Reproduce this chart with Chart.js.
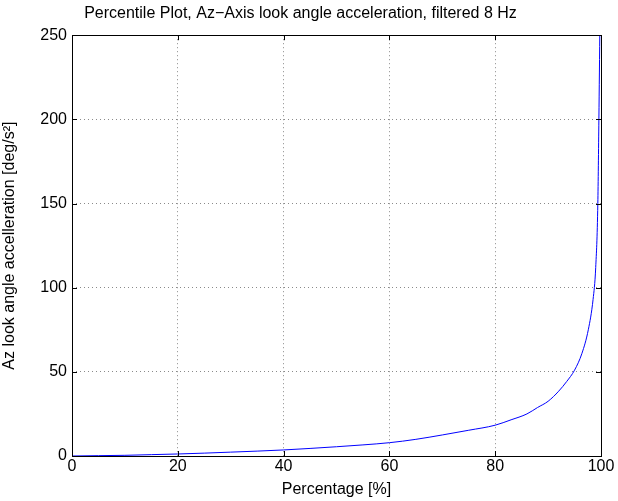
<!DOCTYPE html>
<html>
<head>
<meta charset="utf-8">
<script src="https://cdn.jsdelivr.net/npm/chart.js@4/dist/chart.umd.min.js"></script>
<style>
  html, body { margin: 0; padding: 0; background: #fff; }
  #wrap { width: 618px; height: 501px; }
</style>
</head>
<body>
<div id="wrap"><canvas id="grafico"></canvas></div>
<script>
// datos
const percentiles = [0, 5, 10, 15, 20, 25, 30, 35, 40, 45, 50, 55, 60, 65, 70, 75, 80,
    83, 86, 88, 90, 92, 93.5, 95, 96.4, 97.6, 98.5, 99, 99.4, 99.6, 99.8, 100];
const aceleracion = [0, 0.2, 0.4, 0.8, 1.2, 1.7, 2.3, 2.9, 3.6, 4.5, 5.5, 6.6, 7.9, 9.9, 12.5, 15.3, 18.3,
    21.5, 25, 28.8, 32.5, 38.5, 44.2, 51, 61, 75, 93, 112, 150, 200, 260, 340];
const ticksX = [0, 20, 40, 60, 80, 100];
const ticksY = [0, 50, 100, 150, 200, 250];

const FUENTE = 'Liberation Sans, Arial, Helvetica, sans-serif';
const COLORES = { LINEA: '#0000ff', GRID: '#8a8a8a', TEXTO: '#000' };

const puntos = percentiles.map((p, i) => ({ x: p, y: aceleracion[i] }));

// marco negro y marcas de tick hacia dentro (estilo MATLAB)
const marcoPlugin = {
    id: 'marco',
    afterDatasetsDraw(chart) {
        const { ctx, chartArea: a, scales: { x, y } } = chart;
        ctx.save();
        ctx.strokeStyle = '#000';
        ctx.lineWidth = 1;
        ctx.strokeRect(Math.round(a.left) + 0.5, Math.round(a.top) + 0.5,
            Math.round(a.right - a.left), Math.round(a.bottom - a.top));
        const largo = 5;
        ctx.beginPath();
        ticksX.forEach(v => {
            const px = Math.round(x.getPixelForValue(v)) + 0.5;
            ctx.moveTo(px, a.bottom); ctx.lineTo(px, a.bottom - largo);
            ctx.moveTo(px, a.top); ctx.lineTo(px, a.top + largo);
        });
        ticksY.forEach(v => {
            const py = Math.round(y.getPixelForValue(v)) + 0.5;
            ctx.moveTo(a.left, py); ctx.lineTo(a.left + largo, py);
            ctx.moveTo(a.right, py); ctx.lineTo(a.right - largo, py);
        });
        ctx.stroke();
        ctx.restore();
    }
};

new Chart(document.getElementById('grafico').getContext('2d'), {
    type: 'line',
    data: {
        datasets: [{
            data: puntos,
            borderColor: COLORES.LINEA,
            borderWidth: 1,
            pointRadius: 0,
            cubicInterpolationMode: 'monotone',
            fill: false
        }]
    },
    options: {
        responsive: true,
        maintainAspectRatio: false,
        animation: false,
        layout: { padding: { left: 0, right: 17, top: 0, bottom: 0 } },
        plugins: {
            legend: { display: false },
            tooltip: { enabled: false },
            title: {
                display: true,
                text: 'Percentile Plot, Az\u2212Axis look angle acceleration, filtered 8 Hz',
                color: COLORES.TEXTO,
                font: { family: FUENTE, size: 16, weight: 'normal' },
                padding: { top: 4, bottom: 12 }
            }
        },
        scales: {
            x: {
                type: 'linear',
                min: 0,
                max: 100,
                afterFit(scale) { scale.height = 45; },
                ticks: {
                    stepSize: 20,
                    color: COLORES.TEXTO,
                    font: { family: FUENTE, size: 16 },
                    padding: 1,
                    maxRotation: 0
                },
                grid: {
                    color: COLORES.GRID,
                    drawTicks: false
                },
                border: { display: false, dash: [1, 3] },
                title: {
                    display: true,
                    text: 'Percentage [%]',
                    color: COLORES.TEXTO,
                    font: { family: FUENTE, size: 16 },
                    padding: { top: 0, bottom: 2 }
                }
            },
            y: {
                min: 0,
                max: 250,
                afterFit(scale) { scale.width = 72; },
                ticks: {
                    stepSize: 50,
                    color: COLORES.TEXTO,
                    font: { family: FUENTE, size: 16 },
                    padding: 5
                },
                grid: {
                    color: COLORES.GRID,
                    drawTicks: false
                },
                border: { display: false, dash: [1, 3] },
                title: {
                    display: true,
                    text: 'Az look angle accelleration [deg/s\u00b2]',
                    color: COLORES.TEXTO,
                    font: { family: FUENTE, size: 16 },
                    padding: { top: 0, bottom: 6 }
                }
            }
        }
    },
    plugins: [marcoPlugin]
});
</script>
</body>
</html>
